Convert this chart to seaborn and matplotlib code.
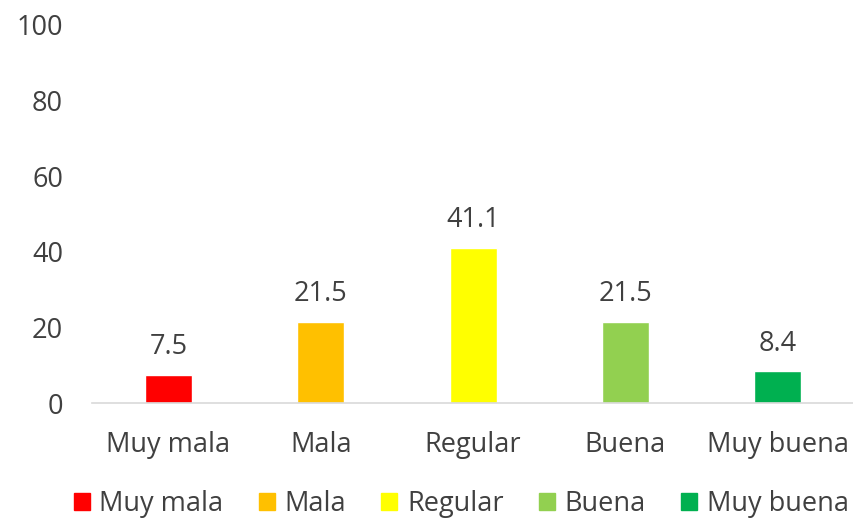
import matplotlib
matplotlib.use("Agg")
import matplotlib.pyplot as plt
import seaborn as sns
import pandas as pd
from matplotlib.patches import Patch

categorias = ["Muy mala", "Mala", "Regular", "Buena", "Muy buena"]
porcentajes = [7.5, 21.5, 41.1, 21.5, 8.4]
colores = ["#FF0000", "#FFC000", "#FFFF00", "#92D050", "#00B050"]
y_ticks = [0, 20, 40, 60, 80, 100]

sns.set_style("white")
plt.rcParams["font.family"] = ["Open Sans", "DejaVu Sans"]

df = pd.DataFrame({"categoria": categorias, "valor": porcentajes})

fig = plt.figure(figsize=(8.54, 5.19), dpi=100)
ax = fig.add_axes([0.108, 0.2235, 0.892, 0.7285])
sns.barplot(data=df, x="categoria", y="valor", hue="categoria",
            palette=colores, width=0.31, legend=False, ax=ax, saturation=1)

for i, v in enumerate(porcentajes):
    ax.text(i, v + 3.5, f"{v:.1f}", ha="center", va="bottom", fontsize=19.5, color="#404040")

ax.set_ylim(0, 100)
ax.set_yticks(y_ticks)
ax.set_xlabel("")
ax.set_ylabel("")
ax.tick_params(axis="both", labelsize=19.5, colors="#404040", length=0)
ax.tick_params(axis="x", pad=20)
ax.tick_params(axis="y", pad=21)
for s in ["top", "right", "left"]:
    ax.spines[s].set_visible(False)
ax.spines["bottom"].set_color("#D9D9D9")
ax.spines["bottom"].set_linewidth(1.2)

handles = [Patch(facecolor=c, edgecolor=c) for c in colores]
fig.legend(handles, categorias, loc="lower center", bbox_to_anchor=(0.54, -0.045),
           ncol=5, frameon=False, fontsize=19.5, handlelength=0.6, handleheight=0.6,
           columnspacing=1.3, handletextpad=0.35, labelcolor="#404040")

fig.savefig("out.png", dpi=100)
